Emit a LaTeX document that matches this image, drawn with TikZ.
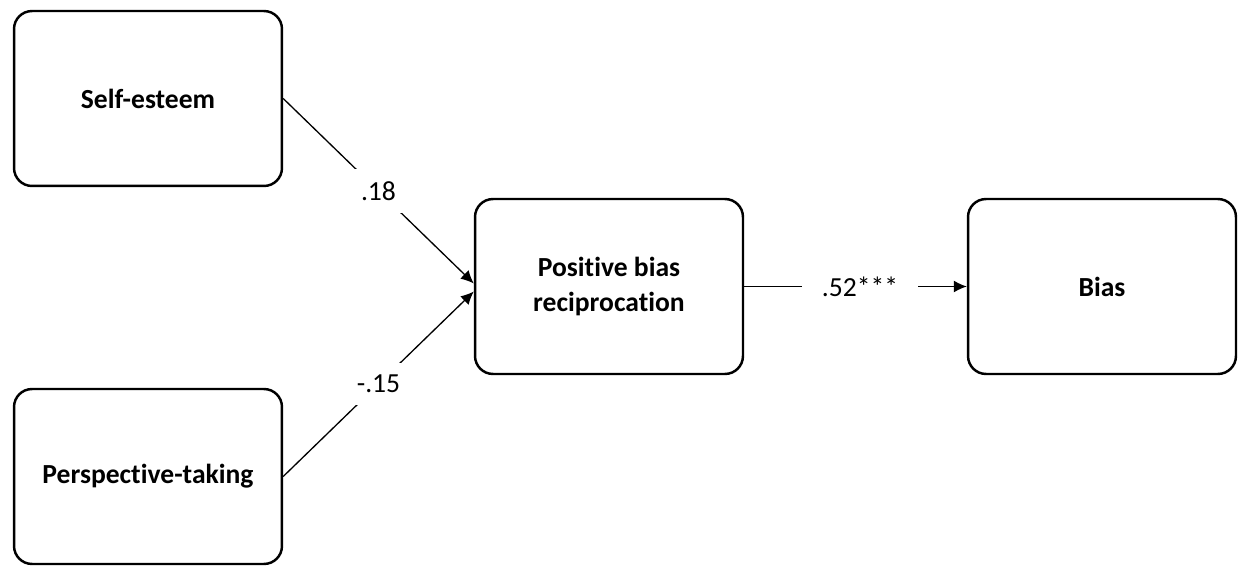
\documentclass[tikz,border=0pt]{standalone}
\usepackage{fontspec}
\setmainfont{Carlito}[Ligatures={NoCommon}]
\usepackage{tikz}
\usetikzlibrary{arrows.meta}

\tikzset{
  varbox/.style={rectangle, draw=black, line width=1.4pt, rounded corners=0.36cm,
    minimum width=5.36cm, minimum height=3.5cm, align=center,
    font=\fontsize{15.7}{19.5}\selectfont\bfseries},
  path/.style={draw=black, line width=0.75pt},
  coef/.style={fill=white, inner sep=0.24cm, font=\fontsize{15.7}{19.5}\selectfont}
}

\begin{document}
\begin{tikzpicture}[x=0.02cm, y=-0.02cm]
    \useasboundingbox (0,0) rectangle (1238,567);
    % variables
    \node[varbox] (selfesteem) at (148,98.5) {Self-esteem};
    \node[varbox] (perspective) at (148,476.5) {Perspective-taking};
    \node[varbox] (posbias) at (609,286.5) {Positive bias\\reciprocation};
    \node[varbox] (bias) at (1102,286.5) {Bias};

    % paths
    \draw[path, -{Latex[length=0.26cm,width=0.24cm]}] (selfesteem.east)
      -- node[coef] {.18} ([yshift=0.06cm]posbias.west);
    \draw[path, -{Latex[length=0.26cm,width=0.24cm]}] (perspective.east)
      -- node[coef] {-.15} ([yshift=-0.1cm]posbias.west);
    \draw[path, -{Latex[length=0.26cm,width=0.24cm]}] (posbias.east)
      -- node[coef, inner xsep=0.4cm, pos=0.52] {.52***} (bias.west);
  \end{tikzpicture}
\end{document}
